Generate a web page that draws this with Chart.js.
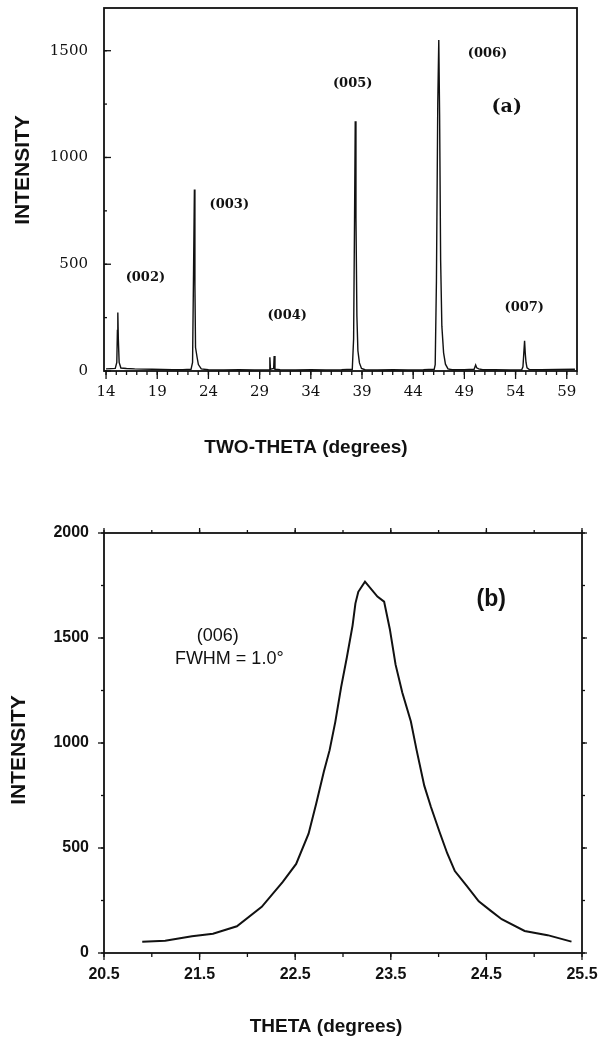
<!DOCTYPE html>
<html>
<head>
<meta charset="utf-8">
<script src="https://cdn.jsdelivr.net/npm/chart.js@4.4.0/dist/chart.umd.min.js"></script>
<style>
html, body { margin: 0; padding: 0; background: #fff; }
#boxA { position: absolute; left: 0; top: 0; width: 605px; height: 470px; }
#boxB { position: absolute; left: 0; top: 470px; width: 605px; height: 568px; }
</style>
</head>
<body>
<div id="boxA"><canvas id="chartA"></canvas></div>
<div id="boxB"><canvas id="chartB"></canvas></div>
<script>
// DATA (a) : two-theta scan ---------------------------
const twoTheta = [
  14.0, 14.5, 14.9, 15.05, 15.11, 15.15, 15.2, 15.28, 15.45, 16.0, 16.8, 17.6, 18.5, 19.5, 20.5, 21.5,
  22.3, 22.45, 22.55, 22.63, 22.68, 22.74, 22.9, 23.02, 23.3, 24.0, 25.5, 27.0, 28.5,
  29.95, 30.0, 30.06, 30.2, 30.37, 30.42, 30.5, 31.0, 32.5, 34.0, 35.5, 37.0,
  38.05, 38.18, 38.27, 38.34, 38.41, 38.5, 38.6, 38.75, 38.95, 39.3, 40.5, 42.0, 43.5, 45.0,
  46.05, 46.15, 46.27, 46.4, 46.5, 46.58, 46.68, 46.8, 46.97, 47.15, 47.4, 47.8, 49.0,
  49.95, 50.1, 50.2, 50.4, 50.8, 52.0, 53.5,
  54.6, 54.72, 54.8, 54.88, 54.95, 55.02, 55.12, 55.35, 56.5, 58.0, 59.8
];
const intensityA = [
  10, 11, 12, 40, 190, 274, 150, 40, 14, 12, 10, 9, 8, 7, 6, 6,
  8, 40, 480, 850, 400, 110, 62, 30, 10, 6, 5, 6, 5,
  6, 64, 8, 10, 12, 70, 8, 6, 5, 6, 5, 6,
  8, 150, 700, 1170, 720, 260, 95, 38, 12, 6, 5, 6, 5, 6,
  8, 30, 420, 1250, 1550, 1200, 520, 210, 85, 32, 10, 6, 6,
  8, 28, 15, 10, 6, 6, 5,
  6, 20, 80, 142, 80, 40, 15, 7, 6, 7, 8
];
const xTicksA = [14, 19, 24, 29, 34, 39, 44, 49, 54, 59];
const yTicksA = [0, 500, 1000, 1500];
const peakNames = ['(002)', '(003)', '(004)', '(005)', '(006)', '(007)'];

// DATA (b) : rocking curve of (006) --------------------
const theta = [
  20.90, 21.14, 21.42, 21.64, 21.89, 22.15, 22.37, 22.51, 22.64, 22.72, 22.80, 22.86, 22.92,
  22.98, 23.04, 23.10, 23.13, 23.16, 23.23, 23.36, 23.43, 23.49, 23.55, 23.62, 23.71, 23.77,
  23.85, 23.92, 24.01, 24.09, 24.17, 24.29, 24.42, 24.54, 24.66, 24.90, 25.14, 25.39
];
const intensityB = [
  54, 58, 80, 92, 127, 220, 339, 424, 568, 712, 864, 966, 1102,
  1265, 1407, 1559, 1665, 1720, 1768, 1697, 1673, 1542, 1373, 1240, 1102, 966,
  797, 695, 576, 475, 390, 322, 246, 203, 161, 105, 85, 54
];
const xTicksB = [20.5, 21.5, 22.5, 23.5, 24.5, 25.5];
const yTicksB = [0, 500, 1000, 1500, 2000];

const INK = '#111';

// PLUGIN : box and tick marks (inward or outward) ------
const frame = {
  id: 'frame',
  afterDraw(chart, args, o) {
    const ctx = chart.ctx, a = chart.chartArea;
    ctx.save();
    ctx.strokeStyle = INK;
    ctx.lineWidth = o.width;
    ctx.strokeRect(a.left, a.top, a.right - a.left, a.bottom - a.top);
    ctx.lineWidth = 1.3;
    o.marks.forEach(m => {
      const horiz = m.side === 'top' || m.side === 'bottom';
      const sc = horiz ? chart.scales.x : chart.scales.y;
      for (let v = m.from; v <= m.to + 1e-6; v += m.step) {
        const p = sc.getPixelForValue(v);
        ctx.beginPath();
        if (m.side === 'bottom') { ctx.moveTo(p, a.bottom); ctx.lineTo(p, a.bottom + m.len); }
        if (m.side === 'top') { ctx.moveTo(p, a.top); ctx.lineTo(p, a.top - m.len); }
        if (m.side === 'left') { ctx.moveTo(a.left, p); ctx.lineTo(a.left - m.len, p); }
        if (m.side === 'right') { ctx.moveTo(a.right, p); ctx.lineTo(a.right + m.len, p); }
        ctx.stroke();
      }
    });
    ctx.restore();
  }
};

// PLUGIN : free texts (peak names, panel letters, axis titles)
const notes = {
  id: 'notes',
  afterDraw(chart, args, o) {
    const ctx = chart.ctx;
    ctx.save();
    ctx.fillStyle = INK;
    ctx.textAlign = 'center';
    ctx.textBaseline = 'middle';
    o.items.forEach(t => {
      ctx.font = t.font;
      const px = t.px !== undefined ? t.px : chart.scales.x.getPixelForValue(t.x);
      const py = t.py !== undefined ? t.py : chart.scales.y.getPixelForValue(t.y);
      ctx.save();
      ctx.translate(px, py);
      if (t.rot) ctx.rotate(-Math.PI / 2);
      ctx.fillText(t.text, 0, 0);
      ctx.restore();
    });
    ctx.restore();
  }
};

function pts(xs, ys) {
  return xs.map((x, i) => ({ x: x, y: ys[i] }));
}

// fixed axis sizes so the plot box lands where the original is
function fixY(w) {
  return s => { s.width = w; s.paddingTop = 0; s.paddingBottom = 0; };
}
function fixX(h) {
  return s => { s.height = h; s.paddingLeft = 0; s.paddingRight = 0; };
}

// CHART (a) --------------------------------------------
const serifA = '"DejaVu Serif", serif';
const labelA = 'bold 13px ' + serifA;
new Chart(document.getElementById('chartA'), {
  type: 'line',
  data: {
    datasets: [{
      data: pts(twoTheta, intensityA),
      borderColor: INK,
      borderWidth: 1.4,
      pointRadius: 0,
      tension: 0
    }]
  },
  options: {
    responsive: true,
    maintainAspectRatio: false,
    animation: false,
    layout: { padding: { top: 8, right: 28, left: 0, bottom: 0 } },
    plugins: {
      legend: { display: false },
      tooltip: { enabled: false },
      frame: {
        width: 1.8,
        marks: [
          { side: 'bottom', from: 14, to: 60, step: 1, len: 4 },
          { side: 'bottom', from: 14, to: 59, step: 5, len: 8 },
          { side: 'left', from: 0, to: 1700, step: 250, len: -3 },
          { side: 'left', from: 0, to: 1500, step: 500, len: -7 }
        ]
      },
      notes: {
        items: [
          { text: peakNames[0], x: 17.84, y: 435, font: labelA },
          { text: peakNames[1], x: 26.04, y: 780, font: labelA },
          { text: peakNames[2], x: 31.69, y: 257, font: labelA },
          { text: peakNames[3], x: 38.09, y: 1346, font: labelA },
          { text: peakNames[4], x: 51.26, y: 1486, font: labelA },
          { text: peakNames[5], x: 54.85, y: 299, font: labelA },
          { text: '(a)', x: 53.14, y: 1234, font: 'bold 19px ' + serifA },
          { text: 'TWO-THETA (degrees)', px: 306, py: 448, font: 'bold 19px "Liberation Sans", Arial' },
          { text: 'INTENSITY', px: 23, py: 170, rot: true, font: 'bold 21px "Liberation Sans", Arial' }
        ]
      }
    },
    scales: {
      x: {
        type: 'linear',
        min: 13.8,
        max: 60,
        afterBuildTicks: s => { s.ticks = xTicksA.map(v => ({ value: v })); },
        afterFit: fixX(99),
        grid: { display: false, drawTicks: false },
        border: { display: false },
        ticks: {
          color: INK,
          padding: 12,
          maxRotation: 0,
          autoSkip: false,
          font: { family: serifA, size: 15 },
          callback: v => String(v)
        }
      },
      y: {
        min: 0,
        max: 1700,
        afterBuildTicks: s => { s.ticks = yTicksA.map(v => ({ value: v })); },
        afterFit: fixY(104),
        grid: { display: false, drawTicks: false },
        border: { display: false },
        ticks: {
          color: INK,
          padding: 16,
          font: { family: serifA, size: 15 },
          callback: v => String(v)
        }
      }
    }
  },
  plugins: [frame, notes]
});

// CHART (b) --------------------------------------------
const sansB = '"Liberation Sans", Arial, sans-serif';
new Chart(document.getElementById('chartB'), {
  type: 'line',
  data: {
    datasets: [{
      data: pts(theta, intensityB),
      borderColor: INK,
      borderWidth: 2,
      pointRadius: 0,
      tension: 0
    }]
  },
  options: {
    responsive: true,
    maintainAspectRatio: false,
    animation: false,
    layout: { padding: { top: 63, right: 23, left: 0, bottom: 0 } },
    plugins: {
      legend: { display: false },
      tooltip: { enabled: false },
      frame: {
        width: 1.8,
        marks: [
          { side: 'bottom', from: 20.5, to: 25.5, step: 0.5, len: 4 },
          { side: 'bottom', from: 20.5, to: 25.5, step: 1, len: 7 },
          { side: 'top', from: 20.5, to: 25.5, step: 0.5, len: 3 },
          { side: 'top', from: 20.5, to: 25.5, step: 1, len: 5 },
          { side: 'left', from: 0, to: 2000, step: 250, len: 3 },
          { side: 'left', from: 0, to: 2000, step: 500, len: 6 },
          { side: 'right', from: 0, to: 2000, step: 250, len: 3 },
          { side: 'right', from: 0, to: 2000, step: 500, len: 5 }
        ]
      },
      notes: {
        items: [
          { text: '(006)', x: 21.69, y: 1509, font: '18px ' + sansB },
          { text: 'FWHM = 1.0°', x: 21.81, y: 1400, font: '18px ' + sansB },
          { text: '(b)', x: 24.55, y: 1681, font: 'bold 23px ' + sansB },
          { text: 'THETA (degrees)', px: 326, py: 557, font: 'bold 19px ' + sansB },
          { text: 'INTENSITY', px: 19, py: 280, rot: true, font: 'bold 21px ' + sansB }
        ]
      }
    },
    scales: {
      x: {
        type: 'linear',
        min: 20.5,
        max: 25.5,
        afterBuildTicks: s => { s.ticks = xTicksB.map(v => ({ value: v })); },
        afterFit: fixX(85),
        grid: { display: false, drawTicks: false },
        border: { display: false },
        ticks: {
          color: INK,
          padding: 12,
          maxRotation: 0,
          autoSkip: false,
          font: { family: sansB, size: 16, weight: 'bold' },
          callback: v => v.toFixed(1)
        }
      },
      y: {
        min: 0,
        max: 2000,
        afterBuildTicks: s => { s.ticks = yTicksB.map(v => ({ value: v })); },
        afterFit: fixY(104),
        grid: { display: false, drawTicks: false },
        border: { display: false },
        ticks: {
          color: INK,
          padding: 15,
          font: { family: sansB, size: 16, weight: 'bold' },
          callback: v => String(v)
        }
      }
    }
  },
  plugins: [frame, notes]
});
</script>
</body>
</html>
